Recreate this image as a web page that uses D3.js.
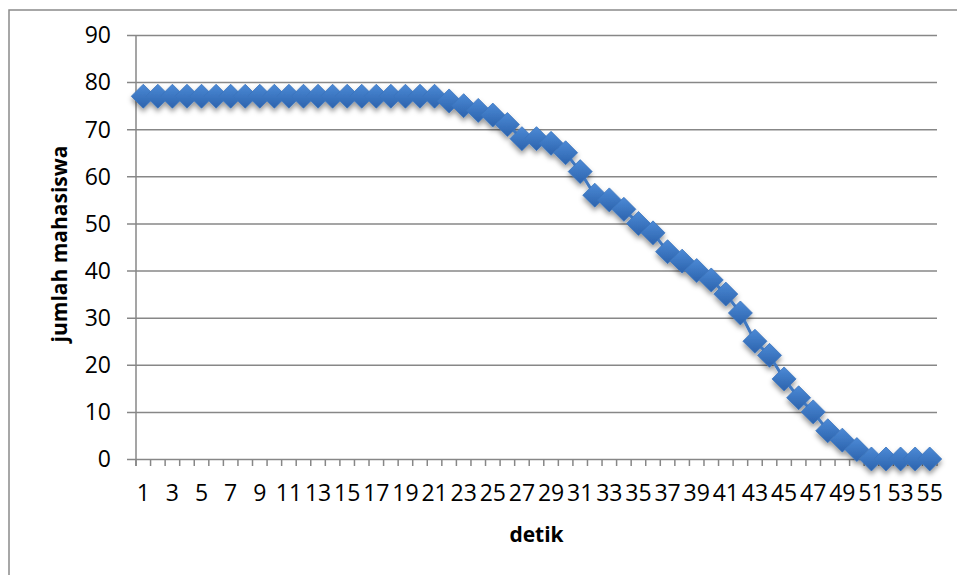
<!DOCTYPE html>
<html><head><meta charset="utf-8">
<script src="https://cdn.jsdelivr.net/npm/d3@7"></script>
<style>html,body{margin:0;padding:0;background:#fff;}svg{display:block;}</style>
</head><body>
<svg id="c" width="957" height="575"></svg>
<script>
const categories = d3.range(1, 56);
const values = [77,77,77,77,77,77,77,77,77,77,77,77,77,77,77,77,77,77,77,77,77,
  76,75,74,73,71,68,68,67,65,61,56,55,53,50,48,44,42,40,38,35,31,25,22,17,13,10,6,4,2,0,0,0,0,0];
const yTicks = [0,10,20,30,40,50,60,70,80,90];
const xLabels = categories.filter(d => d % 2 === 1);
const xTitle = "detik";
const yTitle = "jumlah mahasiswa";

const svg = d3.select("#c");
const L = 136, R = 937, T = 35, B = 459;
const font = "'Open Sans', sans-serif";
const grid = "#878787";

// outer frame
svg.append("rect").attr("x", 9).attr("y", 10).attr("width", 980).attr("height", 600)
  .attr("fill", "#fff").attr("stroke", "#8a8a8a").attr("stroke-width", 1.5);

const x = d3.scaleBand().domain(categories).range([L, R]);
const y = d3.scaleLinear().domain([0, 90]).range([B, T]);

const defs = svg.append("defs");
const g = defs.append("linearGradient").attr("id", "mk").attr("x1", 0).attr("y1", 0).attr("x2", 0).attr("y2", 1);
g.append("stop").attr("offset", "0%").attr("stop-color", "#4c8ad6");
g.append("stop").attr("offset", "100%").attr("stop-color", "#2c63ad");
const f = defs.append("filter").attr("id", "sh").attr("x", "-30%").attr("y", "-30%").attr("width", "160%").attr("height", "170%");
f.append("feDropShadow").attr("dx", 0).attr("dy", 3.5).attr("stdDeviation", 2.5).attr("flood-color", "#000").attr("flood-opacity", 0.4);

// y gridlines + ticks
const yAxis = d3.axisLeft(y).tickValues(yTicks).tickSize(-(R - L)).tickSizeOuter(0).tickPadding(0).tickFormat("");
const ya = svg.append("g").attr("transform", `translate(${L},0)`).call(yAxis);
ya.select(".domain").remove();
ya.selectAll(".tick line").attr("x1", -9).attr("stroke", grid).attr("stroke-width", 1.5);

// y labels
svg.append("g").selectAll("text").data(yTicks).join("text")
  .attr("x", 111).attr("y", d => y(d)).attr("dy", "0.36em")
  .attr("text-anchor", "end").attr("font-family", font).attr("font-size", 23).attr("fill", "#000")
  .text(d => d);

// y axis line
svg.append("line").attr("x1", L).attr("x2", L).attr("y1", T).attr("y2", B + 7)
  .attr("stroke", grid).attr("stroke-width", 1.5);

// x tick marks at category boundaries
const bounds = categories.map(c => x(c)).concat([R]);
svg.append("g").selectAll("line").data(bounds).join("line")
  .attr("x1", d => d).attr("x2", d => d).attr("y1", B).attr("y2", B + 7)
  .attr("stroke", grid).attr("stroke-width", 1.5);

// x labels
const xAxis = d3.axisBottom(x).tickValues(xLabels).tickSize(0).tickPadding(0);
const xa = svg.append("g").attr("transform", `translate(0,${B})`).call(xAxis);
xa.select(".domain").remove();
xa.selectAll(".tick line").remove();
xa.selectAll(".tick text").attr("y", 42).attr("dy", 0).attr("font-family", font).attr("font-size", 23).attr("fill", "#000");

// titles
svg.append("text").attr("x", (L + R) / 2).attr("y", 542).attr("text-anchor", "middle")
  .attr("font-family", font).attr("font-weight", "bold").attr("font-size", 21).text(xTitle);
svg.append("text").attr("transform", `translate(67,${(T + B) / 2 - 3}) rotate(-90)`).attr("text-anchor", "middle")
  .attr("font-family", font).attr("font-weight", "bold").attr("font-size", 21).text(yTitle);

// series
const pts = categories.map((c, i) => [x(c) + x.bandwidth() / 2, y(values[i])]);
const sg = svg.append("g").attr("filter", "url(#sh)");
sg.append("path").attr("d", d3.line()(pts)).attr("fill", "none").attr("stroke", "#3f78c0").attr("stroke-width", 3);
const s = 12;
sg.selectAll("path.m").data(pts).join("path").attr("class", "m")
  .attr("d", d => `M${d[0]},${d[1] - s}L${d[0] + s},${d[1]}L${d[0]},${d[1] + s}L${d[0] - s},${d[1]}Z`)
  .attr("fill", "url(#mk)").attr("stroke", "#3a74bd").attr("stroke-width", 0.8);
</script>
</body></html>
